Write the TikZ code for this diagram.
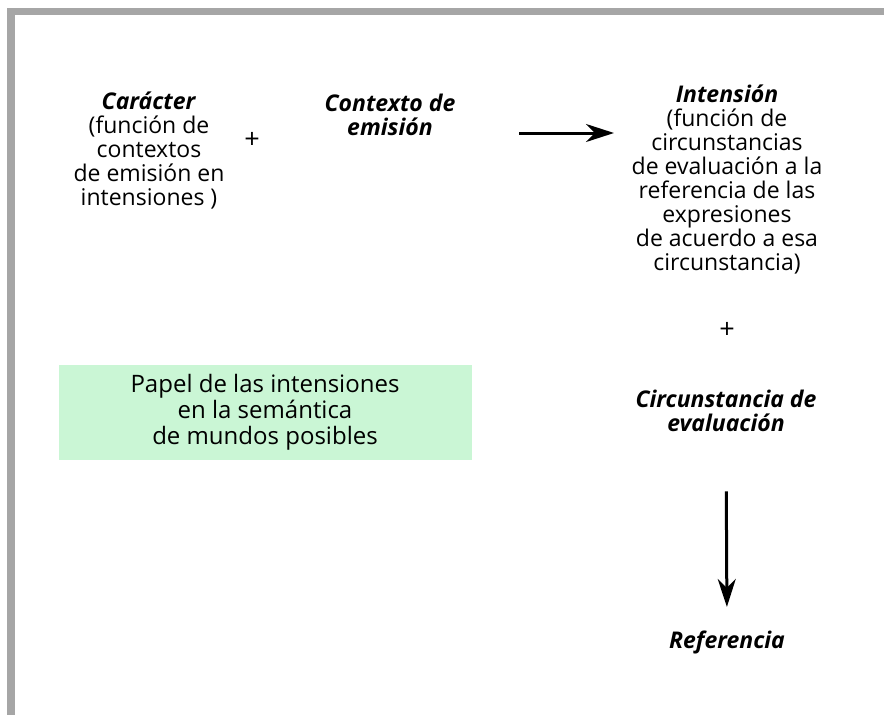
\documentclass[tikz,border=0pt]{standalone}
\usepackage{fontspec}
\setmainfont{Open Sans}
\usetikzlibrary{arrows.meta,positioning}
\definecolor{mintgreen}{RGB}{202,246,213}
\definecolor{framegray}{RGB}{166,166,166}

\begin{document}
\begin{tikzpicture}[x=1pt, y=-1pt,
>={Stealth[length=28pt,width=18pt,inset=9pt]},
line width=3pt,
textt/.style={align=center, inner sep=0pt, font=\fontsize{23}{24}\selectfont},
plusss/.style={inner sep=0pt, font=\fontsize{27}{24}\selectfont},
boxx/.style={fill=mintgreen, minimum width=413pt, minimum height=95pt, align=center, inner sep=0pt, font=\fontsize{24}{26}\selectfont},
]
  \useasboundingbox (0,0) rectangle (884,715);
  % frame
  \fill[framegray] (7,8) rectangle (884,15);
  \fill[framegray] (7,8) rectangle (15,715);

  \node (caracter) [textt] at (149,151) {\textbf{\textit{Carácter}}\\(función de\\contextos\\de emisión en\\intensiones )};
  \node (plusA) [plusss] at (252,140) {+};
  \node (contexto) [textt] at (390,115) {\textbf{\textit{Contexto de}}\\\textbf{\textit{emisión}}};
  \node (intension) [textt] at (727,180) {\textbf{\textit{Intensión}}\\(función de\\circunstancias\\de evaluación a la\\referencia de las\\expresiones\\de acuerdo a esa\\circunstancia)};
  \node (plusB) [plusss] at (727,330) {+};
  \node (circunstancia) [textt] at (726,411) {\textbf{\textit{Circunstancia de}}\\\textbf{\textit{evaluación}}};
  \node (referencia) [textt] at (727,642) {\textbf{\textit{Referencia}}};
  \node (papel) [boxx] at (265,412.5) {Papel de las intensiones\\en la semántica\\de mundos posibles};

  \coordinate (arrowStart) at (519,133);
  \coordinate (arrowEnd) at (614,133);
  \draw[->] (arrowStart) -- (arrowEnd);
  \draw[->, shorten <=58pt, shorten >=22pt] (circunstancia.south) -- (referencia.north);
\end{tikzpicture}
\end{document}
